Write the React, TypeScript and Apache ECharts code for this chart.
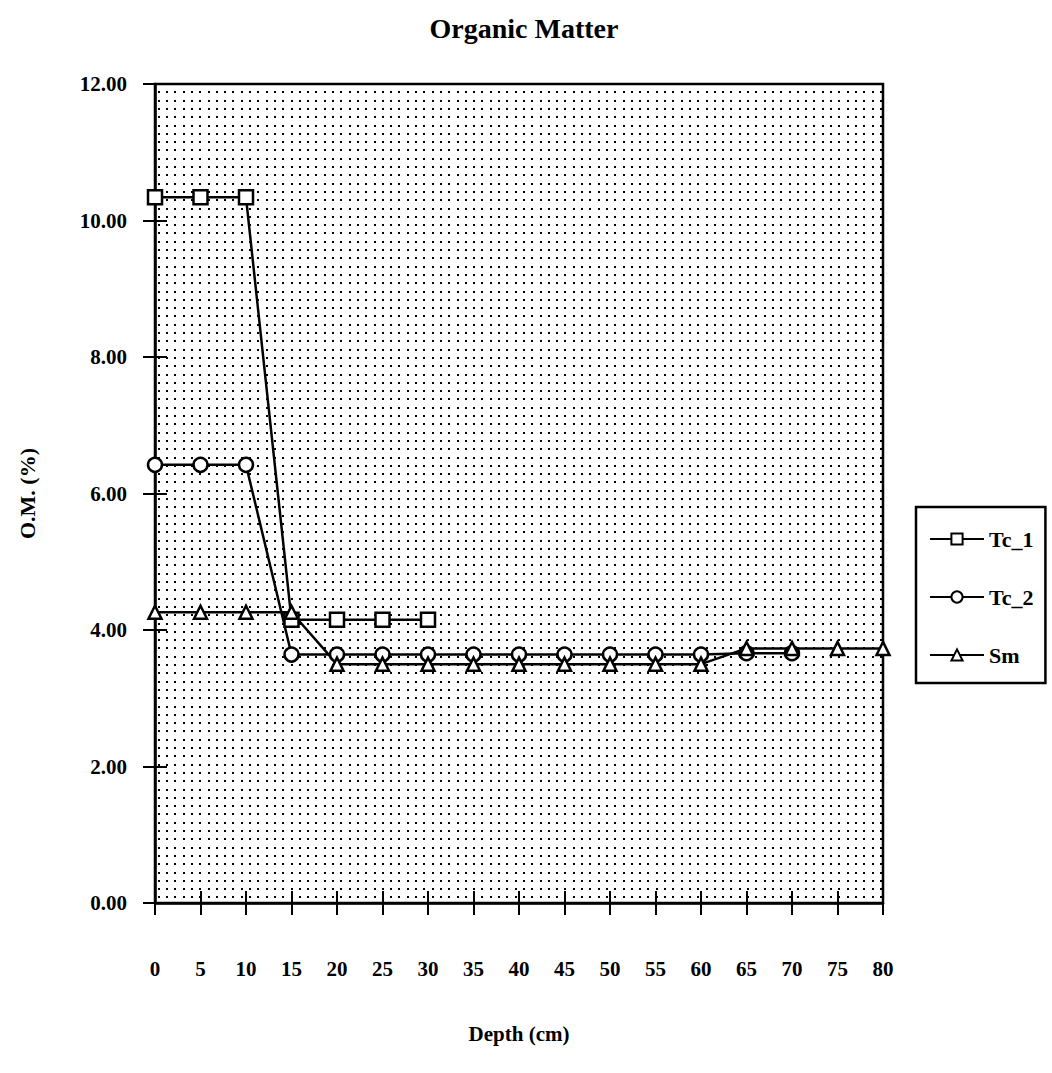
import React, { useEffect, useRef } from "react";
import * as echarts from "echarts";

const depths = [0, 5, 10, 15, 20, 25, 30, 35, 40, 45, 50, 55, 60, 65, 70, 75, 80];
const tc1 = [10.34, 10.34, 10.34, 4.15, 4.15, 4.15, 4.15];
const tc2 = [6.42, 6.42, 6.42, 3.64, 3.64, 3.64, 3.64, 3.64, 3.64, 3.64, 3.64, 3.64, 3.64, 3.66, 3.66];
const sm = [4.26, 4.26, 4.26, 4.26, 3.5, 3.5, 3.5, 3.5, 3.5, 3.5, 3.5, 3.5, 3.5, 3.73, 3.73, 3.73, 3.73];
const seriesNames = ["Tc_1", "Tc_2", "Sm"];

const FONT = "Liberation Serif";

function pairs(vals: number[]) {
  return vals.map((v, i) => [depths[i], v]);
}

function makePattern() {
  const c = document.createElement("canvas");
  const n = 10;
  const step = 8.3;
  const size = Math.round(n * step);
  c.width = size;
  c.height = size;
  const ctx = c.getContext("2d")!;
  ctx.fillStyle = "#ffffff";
  ctx.fillRect(0, 0, size, size);
  ctx.fillStyle = "#000000";
  for (let i = 0; i < n; i++) {
    for (let j = 0; j < n; j++) {
      ctx.fillRect(Math.round(i * step), Math.round(j * step), 2, 2);
    }
  }
  return { image: c, repeat: "repeat", imageWidth: size, imageHeight: size };
}

export default function App() {
  const ref = useRef<HTMLDivElement>(null);
  useEffect(() => {
    const chart = echarts.init(ref.current!, null, { renderer: "svg" });
    const sym = { color: "#ffffff", borderColor: "#000000", borderWidth: 2.5 };
    const mk = (name: string, vals: number[], symbol: string, size: number) => ({
      name,
      type: "line",
      data: pairs(vals),
      symbol,
      symbolSize: size,
      showAllSymbol: true,
      lineStyle: { color: "#000000", width: 2.5 },
      itemStyle: sym,
      z: 3,
    });
    const bold = (size: number) => ({ fontFamily: FONT, fontWeight: "bold", fontSize: size, color: "#000" });
    chart.setOption({
      animation: false,
      backgroundColor: "#ffffff",
      textStyle: { fontFamily: FONT, color: "#000000" },
      title: {
        text: "Organic Matter",
        left: 519,
        textAlign: "center",
        top: 9,
        textStyle: bold(28),
      },
      grid: {
        left: 155,
        right: 169,
        top: 84,
        bottom: 170,
        show: true,
        backgroundColor: makePattern(),
        borderColor: "#000000",
        borderWidth: 2.5,
      },
      legend: {
        data: seriesNames,
        orient: "vertical",
        left: 916,
        top: 507,
        itemGap: 36,
        itemWidth: 54,
        itemHeight: 14,
        borderColor: "#000",
        borderWidth: 2.5,
        borderRadius: 0,
        padding: [21, 12, 17, 13],
        backgroundColor: "#fff",
        textStyle: bold(22),
      },
      xAxis: [
        {
          type: "value",
          min: 0,
          max: 80,
          interval: 5,
          position: "bottom",
          name: "Depth (cm)",
          nameLocation: "middle",
          nameGap: 120,
          nameTextStyle: bold(21),
          axisLine: { show: true, lineStyle: { color: "#000", width: 2.5 } },
          axisTick: { show: true, length: 12, lineStyle: { color: "#000", width: 2 } },
          axisLabel: { margin: 55, ...bold(21) },
          splitLine: { show: false },
        },
        {
          type: "value",
          min: 0,
          max: 80,
          interval: 5,
          position: "bottom",
          axisLine: { show: false },
          axisTick: { show: true, inside: true, length: 12, lineStyle: { color: "#000", width: 2 } },
          axisLabel: { show: false },
          splitLine: { show: false },
        },
      ],
      yAxis: [
        {
          type: "value",
          min: 0,
          max: 12,
          interval: 2,
          position: "left",
          name: "O.M. (%)",
          nameLocation: "middle",
          nameGap: 117,
          nameRotate: 90,
          nameTextStyle: bold(22),
          axisLine: { show: true, lineStyle: { color: "#000", width: 2.5 } },
          axisTick: { show: true, length: 12, lineStyle: { color: "#000", width: 2 } },
          axisLabel: {
            margin: 28,
            ...bold(21),
            formatter: (v: number) => v.toFixed(2),
          },
          splitLine: { show: false },
        },
        {
          type: "value",
          min: 0,
          max: 12,
          interval: 2,
          position: "left",
          axisLine: { show: false },
          axisTick: { show: true, inside: true, length: 12, lineStyle: { color: "#000", width: 2 } },
          axisLabel: { show: false },
          splitLine: { show: false },
        },
      ],
      series: [
        mk("Tc_1", tc1, "rect", 14),
        mk("Tc_2", tc2, "circle", 14),
        mk("Sm", sm, "triangle", 13),
      ],
    });
    return () => chart.dispose();
  }, []);
  return <div ref={ref} style={{ width: 1052, height: 1073, position: "absolute", left: 0, top: 0 }} />;
}
